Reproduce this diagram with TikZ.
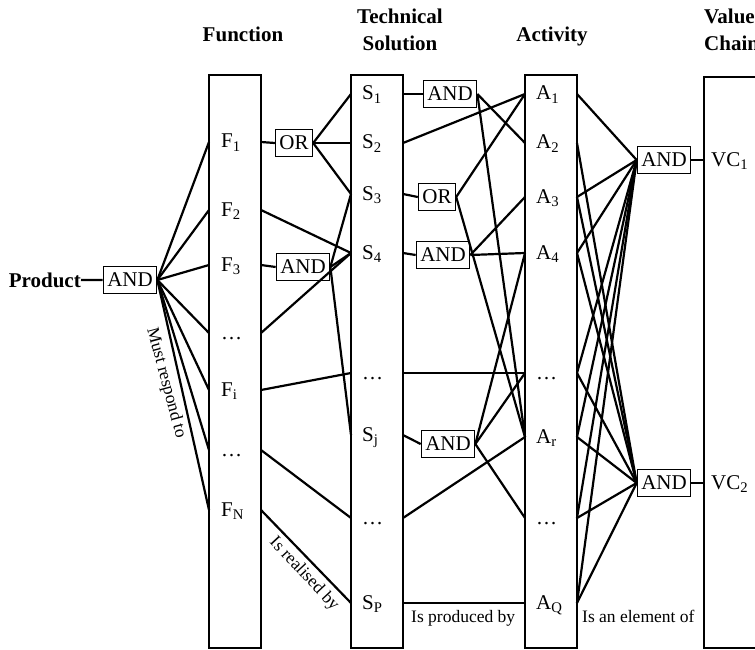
\documentclass[tikz,border=0pt]{standalone}
\usepackage{fontspec}
\setmainfont{Liberation Serif}
\usetikzlibrary{positioning}

\begin{document}
\begin{tikzpicture}[x=1pt, y=-1pt,
  colbox/.style={line width=2.8pt},
  link/.style={line width=2.2pt},
  gate/.style={draw, line width=1.2pt, inner xsep=4pt, inner ysep=0pt, minimum height=27pt, font=\fontsize{21}{25}\selectfont},
  item/.style={anchor=west, inner sep=0pt, text height=14pt, text depth=2pt, font=\fontsize{21}{25}\selectfont},
  head/.style={inner sep=0pt, font=\fontsize{21}{27}\selectfont\bfseries},
  note/.style={inner sep=1pt, font=\fontsize{17.5}{20}\selectfont}]
  \useasboundingbox (0,0) rectangle (755,650);

  % Headers
  \node[head, anchor=base] (h-fun) at (243,42) {Function};
  \node[head, align=center] (h-sol) at (400,30) {Technical\\Solution};
  \node[head, anchor=base] (h-act) at (552,42) {Activity};
  \node[head, align=left, anchor=north west] (h-vc) at (704,9) {Value\\Chain};

  % Columns
  \draw[colbox] (209,75) rectangle (261,648);
  \draw[colbox] (351,75) rectangle (403,648);
  \draw[colbox] (525,75) rectangle (577,648);
  \draw[colbox] (704,77) rectangle (780,648);

  % Items of each column
  \foreach \n/\t/\y in {F1/F\textsubscript{1}/142, F2/F\textsubscript{2}/210, F3/F\textsubscript{3}/265,
      Fd1/\ldots/333, Fi/F\textsubscript{i}/390, Fd2/\ldots/450, FN/F\textsubscript{N}/510} {
    \coordinate (\n-w) at (209,\y);
    \coordinate (\n-e) at (261,\y);
    \node[item] (\n) at (221,\y) {\t};
  }
  \foreach \n/\t/\y in {S1/S\textsubscript{1}/94, S2/S\textsubscript{2}/143, S3/S\textsubscript{3}/194,
      S4/S\textsubscript{4}/253, Sd1/\ldots/373, Sj/S\textsubscript{j}/435, Sd2/\ldots/518, SP/S\textsubscript{P}/603} {
    \coordinate (\n-w) at (351,\y);
    \coordinate (\n-e) at (403,\y);
    \node[item] (\n) at (362,\y) {\t};
  }
  \foreach \n/\t/\y in {A1/A\textsubscript{1}/94, A2/A\textsubscript{2}/143, A3/A\textsubscript{3}/197,
      A4/A\textsubscript{4}/253, Ad1/\ldots/373, Ar/A\textsubscript{r}/437, Ad2/\ldots/518, AQ/A\textsubscript{Q}/603} {
    \coordinate (\n-w) at (525,\y);
    \coordinate (\n-e) at (577,\y);
    \node[item] (\n) at (536,\y) {\t};
  }
  \foreach \n/\t/\y in {VC1/VC\textsubscript{1}/160, VC2/VC\textsubscript{2}/483} {
    \coordinate (\n-w) at (704,\y);
    \node[item] (\n) at (711,\y) {\t};
  }

  % Gates
  \node[head, anchor=base east] (prod) at (81,287) {Product};
  \node[gate] (g-prod) at (130,280) {AND};
  \node[gate] (g-f1) at (294,143) {OR};
  \node[gate] (g-f3) at (303,267) {AND};
  \node[gate] (g-s1) at (450,94) {AND};
  \node[gate] (g-s3) at (437,197) {OR};
  \node[gate] (g-s4) at (443,255) {AND};
  \node[gate] (g-sj) at (448,444) {AND};
  \node[gate] (g-vc1) at (664,160) {AND};
  \node[gate] (g-vc2) at (664,483) {AND};

  % Product -> functions
  \draw[link] (prod) -- (g-prod);
  \foreach \n in {F1,F2,F3,Fd1,Fi,Fd2,FN}
    \draw[link] (g-prod.east) -- (\n-w);

  % Functions -> solutions
  \draw[link] (F1-e) -- (g-f1.west);
  \foreach \n in {S1,S2,S3}
    \draw[link] (g-f1.east) -- (\n-w);
  \draw[link] (F3-e) -- (g-f3.west);
  \foreach \n in {S3,S4,Sj}
    \draw[link] (g-f3.east) -- (\n-w);
  \draw[link] (F2-e) -- (S4-w);
  \draw[link] (Fd1-e) -- (S4-w);
  \draw[link] (Fi-e) -- (Sd1-w);
  \draw[link] (Fd2-e) -- (Sd2-w);
  \draw[link] (FN-e) -- (SP-w);

  % Solutions -> activities
  \draw[link] (S1-e) -- (g-s1.west);
  \draw[link] (g-s1.east) -- (A2-w);
  \draw[link] (g-s1.east) -- (Ar-w);
  \draw[link] (S2-e) -- (A1-w);
  \draw[link] (S3-e) -- (g-s3.west);
  \draw[link] (g-s3.east) -- (A1-w);
  \draw[link] (g-s3.east) -- (Ar-w);
  \draw[link] (S4-e) -- (g-s4.west);
  \draw[link] (g-s4.east) -- (A3-w);
  \draw[link] (g-s4.east) -- (A4-w);
  \draw[link] (Sd1-e) -- (Ad1-w);
  \draw[link] (Sj-e) -- (g-sj.west);
  \foreach \n in {A4,Ad1,Ad2}
    \draw[link] (g-sj.east) -- (\n-w);
  \draw[link] (Sd2-e) -- (Ar-w);
  \draw[link] (SP-e) -- (AQ-w);

  % Activities -> value chain
  \foreach \n in {A1,A3,A4,Ad1,Ar,Ad2,AQ}
    \draw[link] (\n-e) -- (g-vc1.west);
  \foreach \n in {A2,A3,A4,Ad1,Ar,Ad2,AQ}
    \draw[link] (\n-e) -- (g-vc2.west);
  \draw[link] (g-vc1) -- (VC1-w);
  \draw[link] (g-vc2) -- (VC2-w);

  % Relation names
  \node[note, rotate=-75] (n-must) at (166,383) {Must respond to};
  \node[note, rotate=-47] (n-real) at (304,574) {Is realised by};
  \node[note, anchor=base west] (n-prod) at (410,622) {Is produced by};
  \node[note, anchor=base west] (n-elem) at (581,622) {Is an element of};
\end{tikzpicture}
\end{document}
